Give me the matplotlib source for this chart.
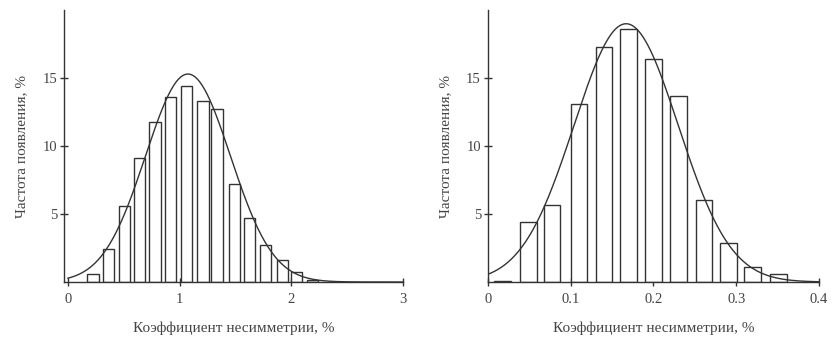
import numpy as np
import matplotlib
matplotlib.use('Agg')
import matplotlib.pyplot as plt

plt.rcParams['font.family'] = ['Liberation Serif', 'DejaVu Serif']

# left histogram: bar centres and heights (%)
left_x = [0.225, 0.365, 0.505, 0.64, 0.78, 0.92, 1.065, 1.21, 1.335, 1.495, 1.625, 1.77, 1.92, 2.05, 2.19]
left_h = [0.6, 2.4, 5.6, 9.1, 11.8, 13.6, 14.4, 13.3, 12.7, 7.2, 4.7, 2.7, 1.6, 0.7, 0.15]
left_fit = (15.3, 1.075, 0.38)   # peak, mean, sigma of fitted curve

# right histogram
right_x = [0.0175, 0.049, 0.0775, 0.11, 0.1405, 0.17, 0.20, 0.23, 0.261, 0.291, 0.32, 0.351]
right_h = [0.1, 4.4, 5.7, 13.1, 17.3, 18.6, 16.4, 13.7, 6.0, 2.9, 1.1, 0.6]
right_fit = (19.0, 0.167, 0.063)

xlabel = 'Коэффициент несимметрии, %'
ylabel = 'Частота появления, %'
ink = '#333333'

fig = plt.figure(figsize=(8.34, 3.45), dpi=100)
ax1 = fig.add_axes([0.0767, 0.1826, 0.4065, 0.788])
ax2 = fig.add_axes([0.585, 0.1826, 0.397, 0.788])


def draw(ax, xs, hs, width, fit, xlim, xticks, xticklabels):
    ax.bar(xs, hs, width=width, facecolor='white', edgecolor=ink, linewidth=1.0, zorder=2)
    a, mu, s = fit
    xx = np.linspace(xlim[0] if xlim[0] >= 0 else 0, xlim[1], 400)
    ax.plot(xx, a * np.exp(-(xx - mu) ** 2 / (2 * s ** 2)), color=ink, linewidth=1.0, zorder=3)
    ax.set_xlim(*xlim)
    ax.set_ylim(0, 20)
    ax.set_xticks(xticks)
    ax.set_xticklabels(xticklabels)
    ax.set_yticks([5, 10, 15])
    for sp in ['top', 'right']:
        ax.spines[sp].set_visible(False)
    for sp in ['left', 'bottom']:
        ax.spines[sp].set_color(ink)
        ax.spines[sp].set_linewidth(1.0)
    ax.tick_params(direction='inout', length=6, width=1.0, color=ink,
                   labelsize=10.5, labelcolor='#444444')
    ax.tick_params(axis='x', pad=5)
    ax.tick_params(axis='y', pad=2)
    ax.set_xlabel(xlabel, fontsize=11, color='#444444', labelpad=11)
    ax.set_ylabel(ylabel, fontsize=11, color='#444444', labelpad=10)


draw(ax1, left_x, left_h, 0.1, left_fit, (-0.035, 3.0), [0, 1, 2, 3], ['0', '1', '2', '3'])
draw(ax2, right_x, right_h, 0.02, right_fit, (0.0, 0.4), [0, 0.1, 0.2, 0.3, 0.4],
     ['0', '0.1', '0.2', '0.3', '0.4'])

fig.savefig('out.png', dpi=100)
